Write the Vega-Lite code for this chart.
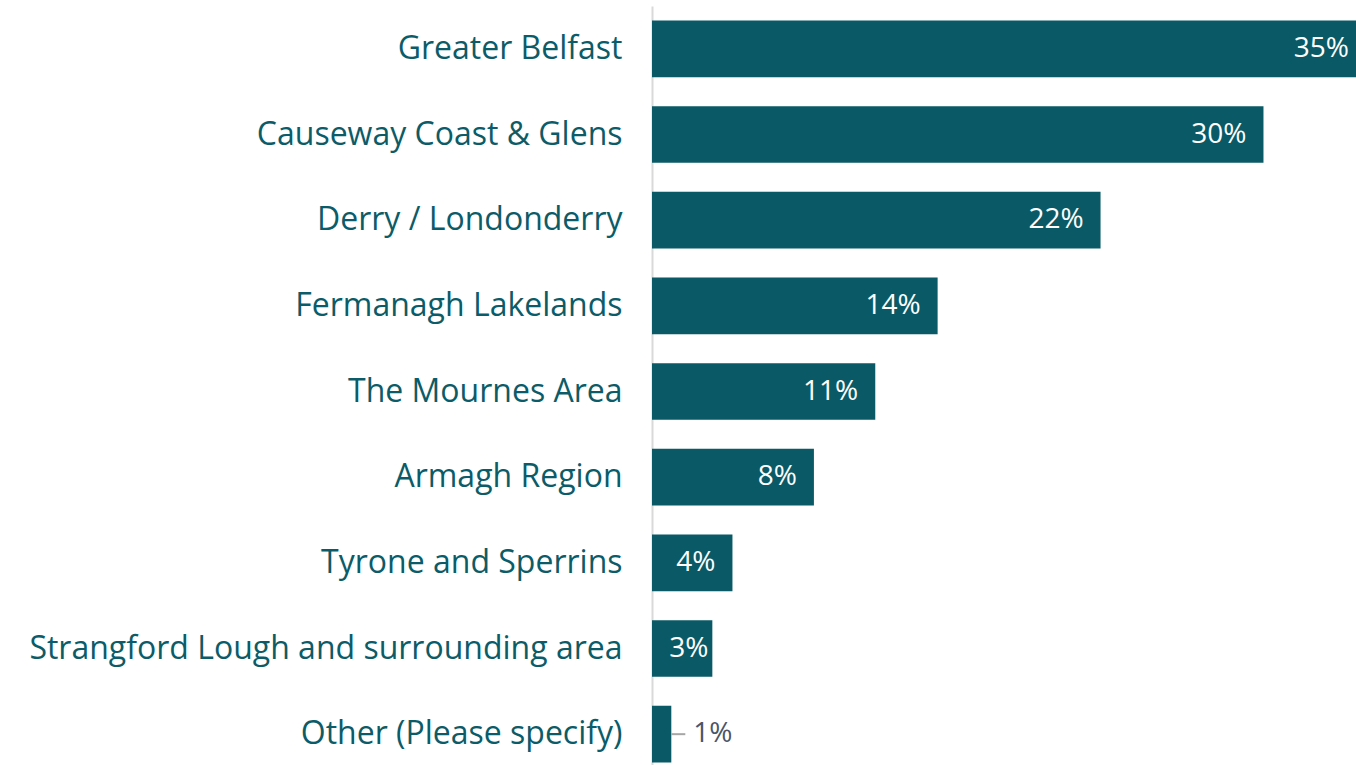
{
  "$schema": "https://vega.github.io/schema/vega-lite/v6.json",
  "autosize": {"type": "none"},
  "padding": {"left": 652, "top": 6, "right": 0, "bottom": 0},
  "width": 704,
  "height": 771,
  "background": "white",
  "config": {
    "view": {"stroke": null},
    "font": "Open Sans"
  },
  "data": {
    "values": [
      {"region": "Greater Belfast", "value": 35.0, "label": "35%"},
      {"region": "Causeway Coast & Glens", "value": 30.4, "label": "30%"},
      {"region": "Derry / Londonderry", "value": 22.3, "label": "22%"},
      {"region": "Fermanagh Lakelands", "value": 14.2, "label": "14%"},
      {"region": "The Mournes Area", "value": 11.1, "label": "11%"},
      {"region": "Armagh Region", "value": 8.05, "label": "8%"},
      {"region": "Tyrone and Sperrins", "value": 4.0, "label": "4%"},
      {"region": "Strangford Lough and surrounding area", "value": 3.0, "label": "3%"},
      {"region": "Other (Please specify)", "value": 0.96, "label": "1%"}
    ]
  },
  "encoding": {
    "y": {
      "field": "region",
      "type": "nominal",
      "sort": null,
      "title": null,
      "scale": {"paddingInner": 0.338, "paddingOuter": 0.169},
      "axis": {
        "ticks": false,
        "labelPadding": 30,
        "labelFontSize": 32,
        "labelColor": "#0b5c68",
        "labelLimit": 700,
        "labelFont": "Open Sans",
        "domainColor": "#d9d9d9",
        "domainWidth": 2
      }
    },
    "x": {
      "field": "value",
      "type": "quantitative",
      "scale": {"domain": [0, 35], "nice": false, "zero": true},
      "axis": null
    }
  },
  "layer": [
    {"mark": {"type": "bar", "color": "#095a66"}},
    {
      "transform": [{"filter": "datum.value >= 3.5 && datum.value < 34"}],
      "mark": {"type": "text", "align": "right", "baseline": "middle", "dx": -17, "fontSize": 28, "color": "white"},
      "encoding": {"text": {"field": "label"}}
    },
    {
      "transform": [{"filter": "datum.value >= 2 && datum.value < 3.5"}],
      "mark": {"type": "text", "align": "right", "baseline": "middle", "dx": -4, "fontSize": 28, "color": "white"},
      "encoding": {"text": {"field": "label"}}
    },
    {
      "transform": [{"filter": "datum.value >= 34"}],
      "mark": {"type": "text", "align": "right", "baseline": "middle", "dx": -7, "fontSize": 28, "color": "white"},
      "encoding": {"text": {"field": "label"}}
    },
    {
      "transform": [{"filter": "datum.value < 2"}],
      "mark": {"type": "rule", "color": "#a6a6a6", "strokeWidth": 2, "x2Offset": 14},
      "encoding": {"x2": {"field": "value"}}
    },
    {
      "transform": [{"filter": "datum.value < 2"}],
      "mark": {"type": "text", "align": "left", "baseline": "middle", "dx": 22, "fontSize": 28, "color": "#4a5568"},
      "encoding": {"text": {"field": "label"}}
    }
  ]
}
